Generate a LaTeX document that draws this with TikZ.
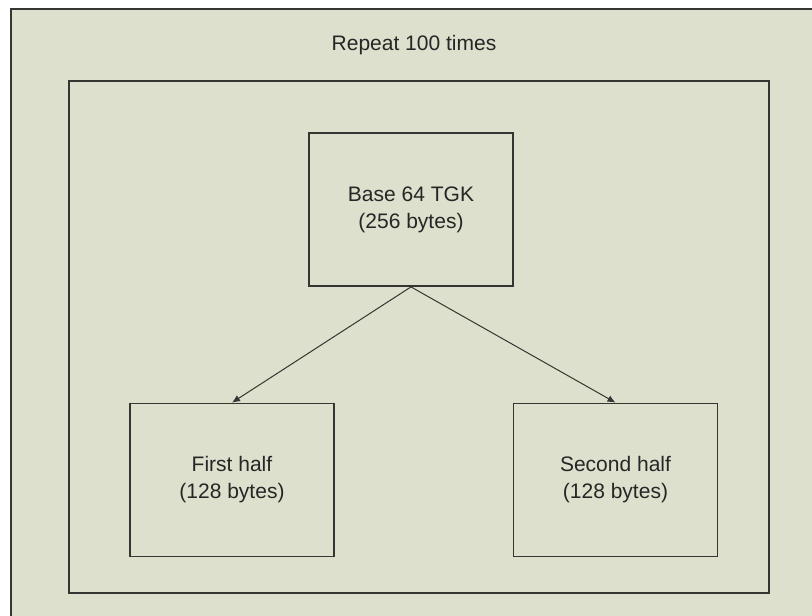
\documentclass[tikz,border=0pt]{standalone}
\usepackage{fontspec}
\setmainfont{Liberation Sans}
\usetikzlibrary{arrows.meta}

\definecolor{panel}{RGB}{221,224,204}
\definecolor{edge}{RGB}{52,54,50}

\tikzset{
  block/.style={draw=edge, line width=1.8pt, minimum width=204pt,
    minimum height=153pt, inner sep=0pt, align=center,
    font=\fontsize{21}{27}\selectfont, text=black!85},
  link/.style={->, draw=edge, line width=1pt},
}

\begin{document}
\begin{tikzpicture}[>={Latex[length=8pt,width=7pt]}, x=1pt, y=-1pt]

\useasboundingbox (0,0) rectangle (812,616);

\fill[panel] (11,9) rectangle (812,616);
\draw[edge, line width=2pt] (812,9)--(11,9)--(11,616);

\node (title) at (414,45) [font=\fontsize{21}{27}\selectfont, text=black!85] {Repeat 100 times};

\draw[edge, line width=2pt] (69,81) rectangle (769,593);

\node (tgk) at (411,209.5) [block] {Base 64 TGK\\(256 bytes)};
\node (first) at (232,480) [block] {First half\\(128 bytes)};
\node (second) at (615.5,480) [block] {Second half\\(128 bytes)};

\draw[link] (tgk.south)--(first.north);
\draw[link] (tgk.south)--(second.north);

\end{tikzpicture}
\end{document}
